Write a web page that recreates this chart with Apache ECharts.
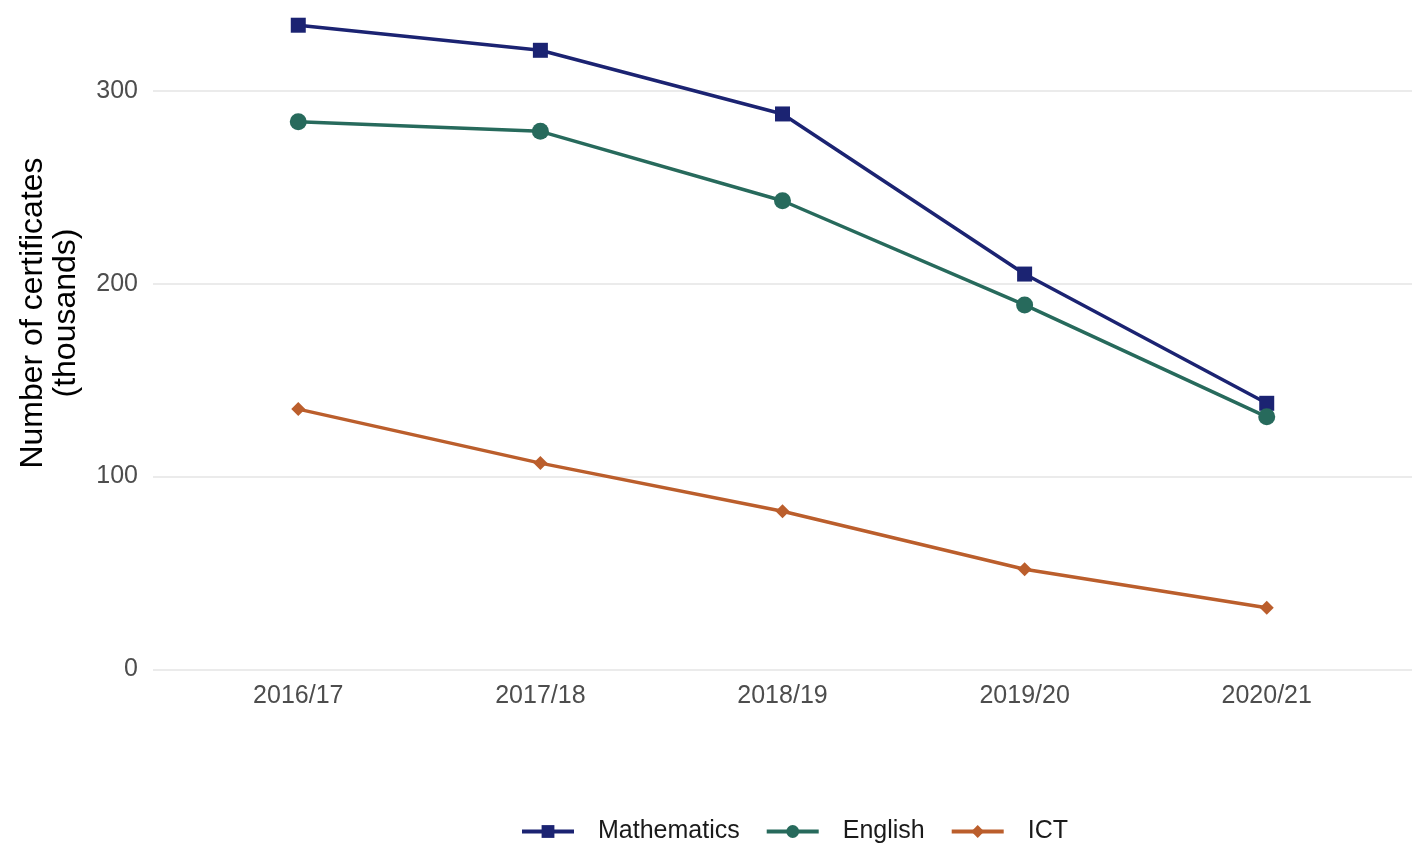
<!DOCTYPE html>
<html>
<head>
<meta charset="utf-8">
<script src="https://cdn.jsdelivr.net/npm/echarts@6/dist/echarts.min.js"></script>
<style>
html,body{margin:0;padding:0;background:#fff;}
#chart{width:1418px;height:848px;}
</style>
</head>
<body>
<div id="chart"></div>
<script>
const categories = ['2016/17', '2017/18', '2018/19', '2019/20', '2020/21'];
const mathematics = [334, 321, 288, 205, 138];
const english = [284, 279, 243, 189, 131];
const ict = [135, 107, 82, 52, 32];
const yTicks = [0, 100, 200, 300];

const FONT = "'Liberation Sans', Arial, sans-serif";
const positions = categories.map((c, i) => i + 1);
const toPoints = arr => arr.map((v, i) => [positions[i], v]);

const chart = echarts.init(document.getElementById('chart'), null, {renderer: 'canvas'});
chart.setOption({
  backgroundColor: '#ffffff',
  animation: false,
  grid: {left: 153, right: 6, top: 4, bottom: 178.5, containLabel: false},
  xAxis: {
    type: 'value',
    min: 0.4,
    max: 5.6,
    axisLine: {show: false},
    axisTick: {show: false},
    splitLine: {show: false},
    axisLabel: {
      customValues: positions,
      formatter: v => categories[Math.round(v) - 1] || '',
      color: '#4d4d4d',
      fontSize: 25,
      fontFamily: FONT,
      margin: 14
    }
  },
  yAxis: {
    type: 'value',
    min: 0,
    max: 345,
    interval: 100,
    axisLine: {show: false},
    axisTick: {show: false},
    splitLine: {show: true, showMaxLine: false, lineStyle: {color: '#ebebeb', width: 2}},
    axisLabel: {
      showMaxLabel: false,
      color: '#4d4d4d',
      fontSize: 25,
      fontFamily: FONT,
      margin: 15,
      padding: [3, 0, 0, 0]
    }
  },
  legend: {
    left: 520,
    top: 819,
    padding: 0,
    itemWidth: 52,
    itemHeight: 16,
    itemGap: 25,
    lineStyle: {width: 4},
    textStyle: {fontSize: 25, fontFamily: FONT, color: '#1a1a1a', padding: [0, 0, 0, 19]},
    data: ['Mathematics', 'English', 'ICT']
  },
  graphic: [{
    type: 'text',
    x: 50,
    y: 313,
    rotation: Math.PI / 2,
    style: {
      text: 'Number of certificates\n(thousands)',
      font: "32px 'Liberation Sans', Arial, sans-serif",
      fill: '#000000',
      align: 'center',
      verticalAlign: 'middle',
      lineHeight: 33
    }
  }],
  series: [
    {
      name: 'Mathematics',
      type: 'line',
      data: toPoints(mathematics),
      symbol: 'rect',
      symbolSize: 15,
      showAllSymbol: true,
      lineStyle: {color: '#1b2372', width: 3.5},
      itemStyle: {color: '#1b2372'}
    },
    {
      name: 'English',
      type: 'line',
      data: toPoints(english),
      symbol: 'circle',
      symbolSize: 17,
      showAllSymbol: true,
      lineStyle: {color: '#276a5c', width: 3.5},
      itemStyle: {color: '#276a5c'}
    },
    {
      name: 'ICT',
      type: 'line',
      data: toPoints(ict),
      symbol: 'diamond',
      symbolSize: 14,
      showAllSymbol: true,
      lineStyle: {color: '#bb5e2c', width: 3.5},
      itemStyle: {color: '#bb5e2c'}
    }
  ]
});
</script>
</body>
</html>
